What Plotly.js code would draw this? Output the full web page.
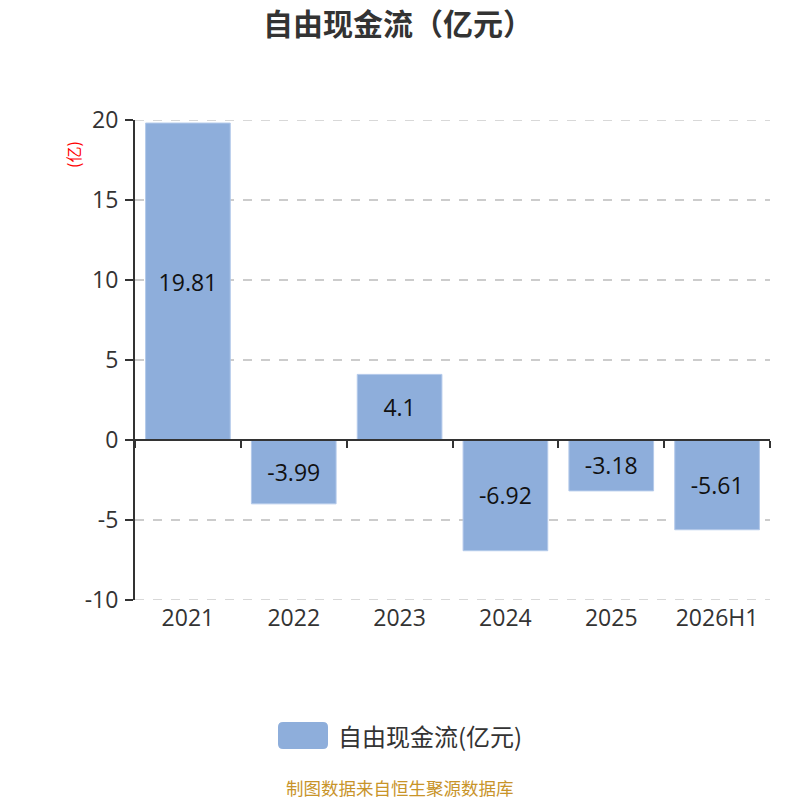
<!DOCTYPE html>
<html>
<head>
<meta charset="utf-8">
<script src="https://cdn.plot.ly/plotly-3.0.1.min.js"></script>
<style>body{margin:0;padding:0;background:#fff;}#chart{width:800px;height:800px;}</style>
</head>
<body>
<div id="chart"></div>
<script>
const categories = ["2021", "2022", "2023", "2024", "2025", "2026H1"];
const values = [19.81, -3.99, 4.1, -6.92, -3.18, -5.61];
const labels = ["19.81", "-3.99", "4.1", "-6.92", "-3.18", "-5.61"];
const seriesName = "自由现金流(亿元)";
const yTicks = [-10, -5, 0, 5, 10, 15, 20];

const CJK = '"Noto Sans CJK SC", "Noto Sans", sans-serif';
const NUM = '"Open Sans", "Noto Sans CJK SC", sans-serif';

const L = 135, R = 770, T = 120, B = 600;
const px = v => (v - L) / (R - L);
const py = v => (B - v) / (B - T);

function roundRect(x0, y0, x1, y1, r) {
  const rx = r / (R - L), ry = r / (B - T);
  const a = px(x0), b = px(x1), top = py(y0), bot = py(y1);
  return `M ${a + rx},${top} L ${b - rx},${top} Q ${b},${top} ${b},${top - ry} ` +
         `L ${b},${bot + ry} Q ${b},${bot} ${b - rx},${bot} L ${a + rx},${bot} ` +
         `Q ${a},${bot} ${a},${bot + ry} L ${a},${top - ry} Q ${a},${top} ${a + rx},${top} Z`;
}

const traces = [
  {
    type: 'bar',
    x: categories,
    y: values,
    name: seriesName,
    marker: {color: '#8EAEDB', line: {color: '#B3C9EA', width: 1}},
    text: labels,
    textposition: 'inside',
    insidetextanchor: 'middle',
    constraintext: 'none',
    textfont: {size: 23, color: '#111', family: NUM},
    hoverinfo: 'x+y',
    showlegend: false
  },
  {
    type: 'bar',
    x: categories,
    y: categories.map(() => 0),
    xaxis: 'x2',
    yaxis: 'y',
    opacity: 0,
    hoverinfo: 'skip',
    showlegend: false
  }
];

const gridEnds = [yTicks[0], yTicks[yTicks.length - 1]];

const layout = {
  width: 800,
  height: 800,
  paper_bgcolor: '#fff',
  plot_bgcolor: '#fff',
  font: {family: CJK, color: '#333'},
  margin: {l: L, r: 800 - R, t: T, b: 800 - B},
  bargap: 0.2,
  barmode: 'overlay',
  showlegend: false,
  title: {
    text: '<b>自由现金流（亿元）</b>',
    x: 398 / 800, xref: 'container', xanchor: 'center',
    y: 1 - 24 / 800, yref: 'container', yanchor: 'middle',
    font: {size: 30, color: '#333', family: CJK}
  },
  xaxis: {
    type: 'category',
    categoryorder: 'array',
    categoryarray: categories,
    range: [-0.5, 5.5],
    showline: false,
    showgrid: false,
    zeroline: false,
    ticks: '',
    tickfont: {size: 23, color: '#333', family: NUM},
    ticklabelstandoff: 2,
    fixedrange: true
  },
  xaxis2: {
    type: 'category',
    categoryorder: 'array',
    categoryarray: categories,
    range: [-0.5, 5.5],
    overlaying: 'x',
    anchor: 'free',
    position: 1 / 3,
    side: 'bottom',
    showline: true,
    linecolor: '#333',
    linewidth: 2,
    showgrid: false,
    zeroline: false,
    ticks: 'outside',
    tickson: 'boundaries',
    ticklen: 7,
    tickwidth: 2,
    tickcolor: '#333',
    showticklabels: false
  },
  yaxis: {
    range: [yTicks[0], yTicks[yTicks.length - 1]],
    tickvals: yTicks,
    ticktext: yTicks.map(String),
    showline: true,
    linecolor: '#333',
    linewidth: 2,
    ticks: 'outside',
    ticklen: 8,
    tickwidth: 2,
    tickcolor: '#333',
    showgrid: true,
    gridcolor: '#cccccc',
    griddash: 'dash',
    gridwidth: 1.5,
    zeroline: false,
    tickfont: {size: 23, color: '#333', family: NUM},
    ticklabelstandoff: 2,
    fixedrange: true
  },
  shapes: [
    ...gridEnds.map(v => ({
      type: 'line', xref: 'paper', yref: 'y', x0: 0, x1: 1, y0: v, y1: v,
      line: {color: '#cccccc', width: 1.5, dash: 'dash'}, layer: 'below'
    })),
    {type: 'path', xref: 'paper', yref: 'paper',
     path: roundRect(278, 722, 328, 749, 5),
     fillcolor: '#8EAEDB', line: {width: 0}}
  ],
  annotations: [
    {text: '(亿)', xref: 'paper', yref: 'paper',
     x: px(73), y: py(155),
     xanchor: 'center', yanchor: 'middle', textangle: -90, showarrow: false,
     font: {size: 16, color: '#ff0000', family: CJK}},
    {text: seriesName, xref: 'paper', yref: 'paper',
     x: px(336), y: py(735),
     xanchor: 'left', yanchor: 'middle', showarrow: false,
     font: {size: 24, color: '#333', family: CJK}},
    {text: '制图数据来自恒生聚源数据库', xref: 'paper', yref: 'paper',
     x: px(400), y: py(787),
     xanchor: 'center', yanchor: 'middle', showarrow: false,
     font: {size: 17.5, color: '#C8942A', family: CJK}}
  ]
};

Plotly.newPlot('chart', traces, layout, {displayModeBar: false, staticPlot: true});
</script>
</body>
</html>
